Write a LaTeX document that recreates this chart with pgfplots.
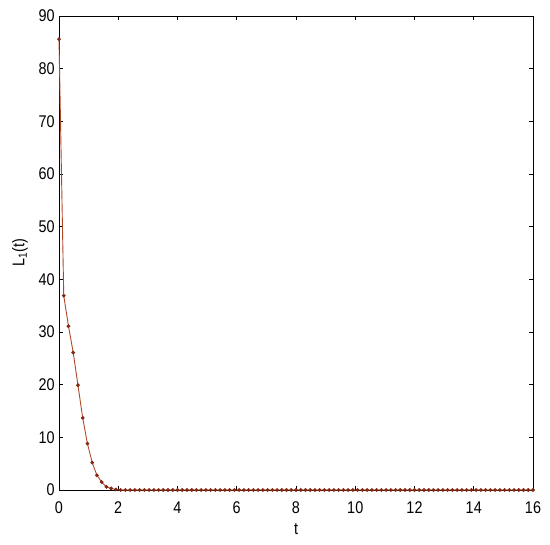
\documentclass[border=0pt]{standalone}
\usepackage{fontspec}
\setmainfont{Liberation Sans}
\usepackage{pgfplots}
\pgfplotsset{compat=1.18}
\usepackage{pgfplotstable}

\definecolor{curve}{RGB}{176,72,40}
\definecolor{dots}{RGB}{130,40,20}

\pgfplotstableread{
t L
0.00 85.6
0.16 36.9
0.32 31.1
0.48 26.1
0.64 19.9
0.80 13.7
0.96 8.8
1.12 5.2
1.28 2.8
1.44 1.5
1.60 0.6
1.76 0.3
1.92 0.1
2.08 0
2.24 0
2.40 0
2.56 0
2.72 0
2.88 0
3.04 0
3.20 0
3.36 0
3.52 0
3.68 0
3.84 0
4.00 0
4.16 0
4.32 0
4.48 0
4.64 0
4.80 0
4.96 0
5.12 0
5.28 0
5.44 0
5.60 0
5.76 0
5.92 0
6.08 0
6.24 0
6.40 0
6.56 0
6.72 0
6.88 0
7.04 0
7.20 0
7.36 0
7.52 0
7.68 0
7.84 0
8.00 0
8.16 0
8.32 0
8.48 0
8.64 0
8.80 0
8.96 0
9.12 0
9.28 0
9.44 0
9.60 0
9.76 0
9.92 0
10.08 0
10.24 0
10.40 0
10.56 0
10.72 0
10.88 0
11.04 0
11.20 0
11.36 0
11.52 0
11.68 0
11.84 0
12.00 0
12.16 0
12.32 0
12.48 0
12.64 0
12.80 0
12.96 0
13.12 0
13.28 0
13.44 0
13.60 0
13.76 0
13.92 0
14.08 0
14.24 0
14.40 0
14.56 0
14.72 0
14.88 0
15.04 0
15.20 0
15.36 0
15.52 0
15.68 0
15.84 0
16.00 0
}\lone

\begin{document}
\begin{tikzpicture}
\begin{axis}[
    scale only axis,
    width=474bp, height=474bp,
    xmin=0, xmax=16,
    ymin=0, ymax=90,
    xtick={0,2,...,16},
    ytick={0,10,...,90},
    tick align=inside,
    major tick length=4bp,
    axis line style={line width=0.8bp},
    every tick/.style={black, line width=0.7bp},
    /pgf/number format/assume math mode=true,
    tick label style={font=\fontsize{17}{19}\selectfont, inner sep=0pt, xscale=0.85},
    xticklabel style={anchor=north, yshift=-11.5bp},
    yticklabel style={anchor=east, xshift=-5bp},
    label style={font=\fontsize{17}{19}\selectfont, xscale=0.85},
    xlabel={t},
    ylabel={L\textsubscript{1}(t)},
    xlabel style={at={(axis description cs:0.5,-0.0823)}, anchor=center},
    ylabel style={at={(axis description cs:-0.0823,0.5)}, anchor=center},
    clip=false,
]
\addplot[color=curve, line width=0.9bp, mark=*, mark size=1.4bp,
    mark options={fill=dots, draw=dots}] table[x=t, y=L] {\lone};
\coordinate (bl) at (rel axis cs:0,0);
\coordinate (tr) at (rel axis cs:1,1);
\end{axis}
\path ([xshift=-59bp,yshift=-55bp]bl) rectangle ([xshift=17bp,yshift=16bp]tr);
\end{tikzpicture}
\end{document}
